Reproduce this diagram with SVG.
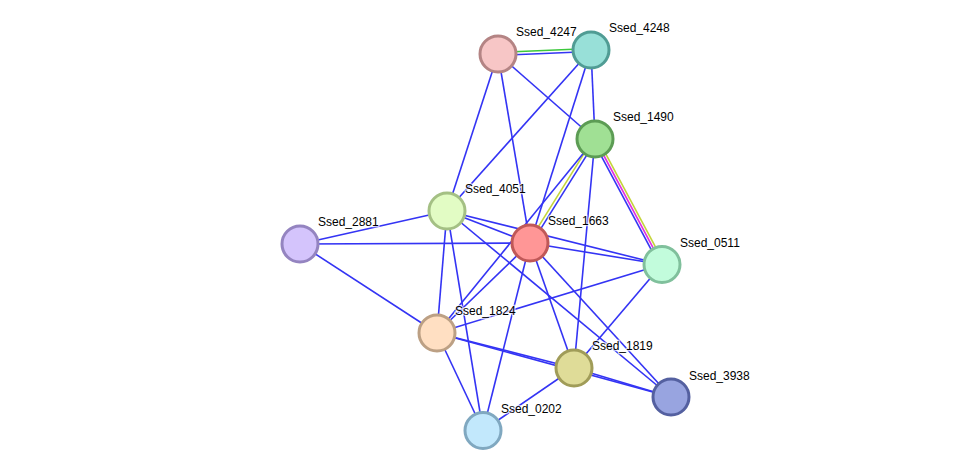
<svg xmlns="http://www.w3.org/2000/svg" width="975" height="476" viewBox="0 0 975 476">
<style>
.e{stroke:#3434f4;stroke-width:1.6;fill:none}
.g{stroke:#3cc83c;stroke-width:1.6;fill:none}
.y{stroke:#c4d43a;stroke-width:1.6;fill:none}
.m{stroke:#e030e0;stroke-width:1.6;fill:none}
.n{stroke-width:3}
text{font-family:"Liberation Sans",Arial,sans-serif;font-size:12px;fill:#000;stroke:#fff;stroke-width:2.5px;stroke-opacity:0.7;paint-order:stroke}
</style>
<rect width="975" height="476" fill="#fff"/>
<g id="edges">
<line class="g" x1="498" y1="52.5" x2="591" y2="48.5"/>
<line class="e" x1="498" y1="55.5" x2="591" y2="51.5"/>
<line class="e" x1="498" y1="54" x2="447" y2="211"/>
<line class="e" x1="498" y1="54" x2="530" y2="243"/>
<line class="e" x1="498" y1="54" x2="595" y2="139"/>
<line class="e" x1="591" y1="50" x2="447" y2="211"/>
<line class="e" x1="591" y1="50" x2="530" y2="243"/>
<line class="e" x1="591" y1="50" x2="595" y2="139"/>
<line class="y" x1="593.7" y1="138.2" x2="528.7" y2="242.2"/>
<line class="e" x1="596.3" y1="139.8" x2="531.3" y2="243.8"/>
<line class="e" x1="592.8" y1="140.2" x2="659.8" y2="265.7"/>
<line class="m" x1="595" y1="139" x2="662" y2="264.5"/>
<line class="y" x1="597.2" y1="137.8" x2="664.2" y2="263.3"/>
<line class="e" x1="595" y1="139" x2="437" y2="333"/>
<line class="e" x1="595" y1="139" x2="574" y2="368"/>
<line class="e" x1="447" y1="211" x2="300" y2="244"/>
<line class="e" x1="447" y1="211" x2="530" y2="243"/>
<line class="e" x1="447" y1="211" x2="662" y2="264.5"/>
<line class="e" x1="447" y1="211" x2="671" y2="397"/>
<line class="e" x1="447" y1="211" x2="437" y2="333"/>
<line class="e" x1="447" y1="211" x2="483" y2="430.5"/>
<line class="e" x1="530" y1="243" x2="300" y2="244"/>
<line class="e" x1="530" y1="243" x2="662" y2="264.5"/>
<line class="e" x1="530" y1="243" x2="437" y2="333"/>
<line class="e" x1="530" y1="243" x2="574" y2="368"/>
<line class="e" x1="530" y1="243" x2="671" y2="397"/>
<line class="e" x1="530" y1="243" x2="483" y2="430.5"/>
<line class="e" x1="300" y1="244" x2="437" y2="333"/>
<line class="e" x1="662" y1="264.5" x2="437" y2="333"/>
<line class="e" x1="662" y1="264.5" x2="574" y2="368"/>
<line class="e" x1="437" y1="333" x2="574" y2="368"/>
<line class="e" x1="437" y1="333" x2="671" y2="397"/>
<line class="e" x1="437" y1="333" x2="483" y2="430.5"/>
<line class="e" x1="574" y1="368" x2="671" y2="397"/>
<line class="e" x1="574" y1="368" x2="483" y2="430.5"/>
</g>
<g id="n4247"><circle class="n" cx="498" cy="54" r="18" fill="#f7c6c6" stroke="#b48484"/><text x="516" y="36">Ssed_4247</text></g>
<g id="n4248"><circle class="n" cx="591" cy="50" r="18" fill="#98e0d8" stroke="#509c94"/><text x="609" y="32">Ssed_4248</text></g>
<g id="n1490"><circle class="n" cx="595" cy="139" r="18" fill="#a0e094" stroke="#5c9c54"/><text x="613" y="121">Ssed_1490</text></g>
<g id="n4051"><circle class="n" cx="447" cy="211" r="18" fill="#e2fcc4" stroke="#a4c084"/><text x="465" y="193">Ssed_4051</text></g>
<g id="n1663"><circle class="n" cx="530" cy="243" r="18" fill="#ff9696" stroke="#c05858"/><text x="548" y="225">Ssed_1663</text></g>
<g id="n2881"><circle class="n" cx="300" cy="244" r="18" fill="#d4c4fc" stroke="#9484c0"/><text x="318" y="226">Ssed_2881</text></g>
<g id="n0511"><circle class="n" cx="662" cy="264.5" r="18" fill="#c2fcdc" stroke="#80c09c"/><text x="680" y="247">Ssed_0511</text></g>
<g id="n1824"><circle class="n" cx="437" cy="333" r="18" fill="#ffdfc2" stroke="#bca084"/><text x="455" y="315">Ssed_1824</text></g>
<g id="n1819"><circle class="n" cx="574" cy="368" r="18" fill="#dfdc98" stroke="#a09c58"/><text x="592" y="350">Ssed_1819</text></g>
<g id="n3938"><circle class="n" cx="671" cy="397" r="18" fill="#98a4e0" stroke="#5460a0"/><text x="689" y="380">Ssed_3938</text></g>
<g id="n0202"><circle class="n" cx="483" cy="430.5" r="18" fill="#c2e8fc" stroke="#80a8c0"/><text x="501" y="413">Ssed_0202</text></g>
</svg>
